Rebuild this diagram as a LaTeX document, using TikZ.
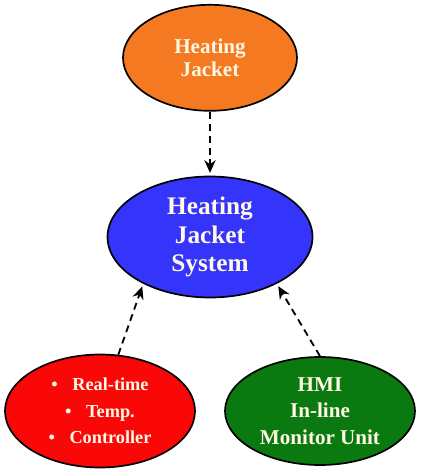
\documentclass[tikz,border=0pt]{standalone}
\usepackage{fontspec}
\setmainfont{Liberation Serif}
\usepackage{tikz}
\usetikzlibrary{arrows.meta,shapes.geometric,positioning}

\definecolor{jacketorange}{RGB}{244,121,32}
\definecolor{systemblue}{RGB}{52,52,250}
\definecolor{ctrlred}{RGB}{250,8,8}
\definecolor{hmigreen}{RGB}{10,122,16}
\definecolor{labelcream}{RGB}{255,248,228}

\begin{document}
\begin{tikzpicture}[node distance=1.6cm, thick]
    \tikzstyle{bubble}=[ellipse, draw=black, line width=1.2pt, inner sep=0pt,
        align=center, text=labelcream, font=\bfseries]
    \tikzstyle{link}=[-{Stealth[length=9pt,width=8pt]}, line width=1.3pt,
        dash pattern=on 5pt off 3.5pt, shorten >=2pt]

    \useasboundingbox (-5.25,-5.8) rectangle (5.275,5.925);

    \node[bubble, fill=systemblue, minimum width=5.125cm, minimum height=3.025cm,
        font=\bfseries\fontsize{18}{20.5}\selectfont] (system)
        {Heating\\Jacket\\System};
    \node[bubble, fill=jacketorange, minimum width=4.35cm, minimum height=2.65cm,
        font=\bfseries\fontsize{15}{16.5}\selectfont] (jacket) [above=of system]
        {Heating\\Jacket};
    \node[bubble, fill=ctrlred, minimum width=4.75cm, minimum height=2.825cm,
        font=\bfseries\fontsize{13}{19}\selectfont] (controller) at (-2.75,-4.35)
        {\textbullet\hspace{0.8em}Real-time\\\textbullet\hspace{0.8em}Temp.\\\textbullet\hspace{0.8em}Controller};
    \node[bubble, fill=hmigreen, minimum width=4.75cm, minimum height=2.7cm,
        font=\bfseries\fontsize{15}{19}\selectfont] (hmi) at (2.75,-4.35)
        {HMI\\In-line\\Monitor Unit};

    \path
    (jacket.south)     edge [link] (system.north)
    (controller.72)    edge [link] (system.215)
    (hmi.north)        edge [link] (system.325);

\end{tikzpicture}
\end{document}
